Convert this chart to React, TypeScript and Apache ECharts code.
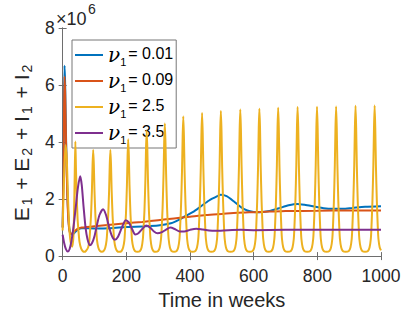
import React, { useEffect, useRef } from 'react';
import * as echarts from 'echarts';

const xTicks = { min: 0, max: 1000, interval: 200 };
const yTicks = { min: 0, max: 8, interval: 2 };
const seriesNames = ['ν1 = 0.01', 'ν1 = 0.09', 'ν1 = 2.5', 'ν1 = 3.5'];
const nuValues = ['0.01', '0.09', '2.5', '3.5'];
const colors = ['#0072BD', '#D95319', '#EDB120', '#7E2F8E'];

// values in units of 10^6
const blue: [number, number][] = [
  [0, 1.0], [2, 2.5], [4, 5.0], [6, 6.68], [8, 6.0], [11, 4.0], [15, 2.2], [19, 1.2], [24, 0.8],
  [30, 0.75], [40, 0.85], [50, 0.95], [60, 0.98], [100, 0.97], [150, 0.98], [200, 1.02], [250, 1.04],
  [300, 1.07], [340, 1.15], [365, 1.27], [385, 1.4], [410, 1.55], [435, 1.75], [460, 1.95], [486, 2.1],
  [497, 2.15], [515, 2.1], [540, 1.9], [560, 1.72], [580, 1.6], [600, 1.55], [620, 1.54], [650, 1.58],
  [680, 1.68], [710, 1.78], [737, 1.83], [760, 1.8], [790, 1.74], [820, 1.68], [850, 1.66], [880, 1.66],
  [910, 1.69], [950, 1.73], [1000, 1.75],
];

const orange: [number, number][] = [
  [0, 1.0], [2, 2.4], [4, 4.6], [6, 6.3], [8, 5.7], [11, 3.8], [15, 2.0], [19, 1.1], [24, 0.77],
  [30, 0.8], [40, 0.9], [50, 0.97], [60, 1.0], [100, 1.05], [150, 1.1], [200, 1.15], [250, 1.2],
  [300, 1.26], [350, 1.32], [400, 1.38], [450, 1.44], [500, 1.48], [550, 1.52], [600, 1.54],
  [650, 1.56], [700, 1.58], [800, 1.59], [900, 1.6], [1000, 1.6],
];

const yellow: [number, number][] = [
  [0, 0.9], [4, 2.6], [9, 3.9], [13, 3.4], [17, 2.0], [21, 1.0], [25, 0.5], [30, 0.33], [34, 0.7], [36, 1.6], [38, 2.9],
  [40, 4.02], [42, 3.0], [44, 2.2], [47, 1.3], [50, 0.85], [53, 0.5], [58, 0.27], [63, 0.18], [68, 0.15],
  [73, 0.18], [80, 0.3], [84, 0.55], [86, 0.85], [89, 1.4], [92, 2.3], [94, 3.2], [96, 3.72], [98, 3.2], [100, 2.3], [103, 1.4], [106, 0.85], [108, 0.55], [112, 0.3], [117, 0.18], [123, 0.15],
  [129, 0.18], [134, 0.3], [138, 0.55], [140, 0.85], [143, 1.4], [146, 2.3], [148, 3.2], [150, 3.72], [152, 3.2], [154, 2.3], [157, 1.4], [160, 0.85], [162, 0.55], [166, 0.3], [171, 0.18], [178, 0.15],
  [185, 0.18], [190, 0.3], [194, 0.55], [196, 0.9], [199, 1.5], [202, 2.5], [204, 3.5], [206, 4.1], [208, 3.5], [210, 2.5], [213, 1.5], [216, 0.9], [218, 0.55], [222, 0.3], [227, 0.18], [235, 0.15],
  [243, 0.18], [248, 0.3], [252, 0.6], [254, 0.95], [257, 1.6], [260, 2.7], [262, 3.8], [264, 4.4], [266, 3.8], [268, 2.7], [271, 1.6], [274, 0.95], [276, 0.6], [280, 0.3], [285, 0.18], [292, 0.15],
  [300, 0.18], [305, 0.3], [309, 0.6], [311, 0.95], [314, 1.7], [317, 2.9], [319, 4.0], [321, 4.65], [323, 4.0], [325, 2.9], [328, 1.7], [331, 0.95], [333, 0.6], [337, 0.3], [342, 0.18], [350, 0.15],
  [358, 0.18], [363, 0.3], [367, 0.6], [369, 1.0], [372, 1.8], [375, 3.0], [377, 4.2], [379, 4.9], [381, 4.2], [383, 3.0], [386, 1.8], [389, 1.0], [391, 0.6], [395, 0.3], [400, 0.18], [408, 0.15],
  [417, 0.18], [422, 0.3], [426, 0.6], [428, 1.0], [431, 1.85], [434, 3.1], [436, 4.3], [438, 5.02], [440, 4.3], [442, 3.1], [445, 1.85], [448, 1.0], [450, 0.6], [454, 0.3], [459, 0.18], [467, 0.15],
  [476, 0.18], [481, 0.3], [485, 0.6], [487, 1.0], [490, 1.9], [493, 3.15], [495, 4.4], [497, 5.09], [499, 4.4], [501, 3.15], [504, 1.9], [507, 1.0], [509, 0.6], [513, 0.3], [518, 0.18], [527, 0.15],
  [537, 0.18], [542, 0.3], [546, 0.6], [548, 1.0], [551, 1.9], [554, 3.2], [556, 4.45], [558, 5.14], [560, 4.45], [562, 3.2], [565, 1.9], [568, 1.0], [570, 0.6], [574, 0.3], [579, 0.18], [588, 0.15],
  [597, 0.18], [602, 0.3], [606, 0.6], [608, 1.0], [611, 1.9], [614, 3.2], [616, 4.5], [618, 5.17], [620, 4.5], [622, 3.2], [625, 1.9], [628, 1.0], [630, 0.6], [634, 0.3], [639, 0.18], [647, 0.15],
  [656, 0.18], [661, 0.3], [665, 0.6], [667, 1.0], [670, 1.9], [673, 3.2], [675, 4.5], [677, 5.2], [679, 4.5], [681, 3.2], [684, 1.9], [687, 1.0], [689, 0.6], [693, 0.3], [698, 0.18], [707, 0.15],
  [717, 0.18], [722, 0.3], [726, 0.6], [728, 1.0], [731, 1.9], [734, 3.2], [736, 4.5], [738, 5.23], [740, 4.5], [742, 3.2], [745, 1.9], [748, 1.0], [750, 0.6], [754, 0.3], [759, 0.18], [768, 0.15],
  [778, 0.18], [783, 0.3], [787, 0.6], [789, 1.0], [792, 1.9], [795, 3.2], [797, 4.5], [799, 5.24], [801, 4.5], [803, 3.2], [806, 1.9], [809, 1.0], [811, 0.6], [815, 0.3], [820, 0.18], [829, 0.15],
  [838, 0.18], [843, 0.3], [847, 0.6], [849, 1.0], [852, 1.9], [855, 3.2], [857, 4.5], [859, 5.25], [861, 4.5], [863, 3.2], [866, 1.9], [869, 1.0], [871, 0.6], [875, 0.3], [880, 0.18], [889, 0.15],
  [899, 0.18], [904, 0.3], [908, 0.6], [910, 1.0], [913, 1.9], [916, 3.2], [918, 4.5], [920, 5.27], [922, 4.5], [924, 3.2], [927, 1.9], [930, 1.0], [932, 0.6], [936, 0.3], [941, 0.18], [950, 0.15],
  [959, 0.18], [964, 0.3], [968, 0.6], [970, 1.0], [973, 1.9], [976, 3.2], [978, 4.5], [980, 5.28], [982, 4.5], [984, 3.2], [987, 1.9], [990, 1.0], [992, 0.6], [996, 0.3], [1000, 0.2],
];

const purple: [number, number][] = [
  [0, 0.75], [5, 0.45], [10, 0.25], [16, 0.16], [22, 0.25], [28, 0.55], [35, 1.1], [42, 1.8], [48, 2.4],
  [55, 2.8], [60, 2.5], [66, 1.7], [72, 1.0], [78, 0.6], [85, 0.38], [92, 0.45], [100, 0.7], [108, 1.1],
  [116, 1.45], [127, 1.64], [136, 1.45], [145, 1.05], [155, 0.7], [164, 0.57], [174, 0.68], [186, 1.0],
  [198, 1.26], [208, 1.18], [218, 0.95], [228, 0.76], [238, 0.8], [250, 0.95], [262, 1.07], [275, 1.0],
  [287, 0.86], [298, 0.8], [310, 0.83], [325, 0.93], [338, 1.0], [352, 0.95], [368, 0.86], [382, 0.86],
  [400, 0.92], [420, 0.96], [440, 0.93], [460, 0.9], [480, 0.89], [520, 0.91], [560, 0.92], [600, 0.91],
  [700, 0.92], [800, 0.92], [1000, 0.92],
];

const seriesData = [blue, orange, yellow, purple];

const FONT = 'Liberation Sans, Arial, Helvetica, sans-serif';
const axisColor = '#6e6e6e';
const textColor = '#262626';

export default function App() {
  const ref = useRef<HTMLDivElement>(null);
  useEffect(() => {
    if (!ref.current) return;
    const chart = echarts.init(ref.current, undefined, { renderer: 'svg' });
    const axisCommon = {
      type: 'value' as const,
      axisLine: { show: true, lineStyle: { color: axisColor, width: 1 } },
      axisTick: { show: true, inside: true, length: 4, lineStyle: { color: axisColor, width: 1 } },
      splitLine: { show: false },
    };
    chart.setOption({
      animation: false,
      backgroundColor: '#ffffff',
      grid: { left: 55, right: 39, top: 28, bottom: 56, containLabel: false },
      xAxis: [
        {
          ...axisCommon,
          ...xTicks,
          position: 'bottom',
          axisLabel: {
            show: true, fontSize: 17.5, color: textColor, fontFamily: FONT, margin: 11,
            formatter: (v: number) => String(v),
          },
          name: 'Time in weeks',
          nameLocation: 'middle',
          nameGap: 33,
          nameTextStyle: { fontSize: 20, color: textColor, fontFamily: FONT },
        },
        { ...axisCommon, ...xTicks, position: 'top', axisLabel: { show: false } },
      ],
      yAxis: [
        {
          ...axisCommon,
          ...yTicks,
          position: 'left',
          axisLabel: { show: true, fontSize: 17.5, color: textColor, fontFamily: FONT, margin: 8 },
          name: '{m|E}{s|1}{m| + E}{s|2}{m| + I}{s|1}{m| + I}{s|2}',
          nameLocation: 'middle',
          nameRotate: 90,
          nameGap: 22,
          nameTextStyle: {
            fontSize: 21,
            color: textColor,
            fontFamily: FONT,
            rich: {
              m: { fontSize: 21, lineHeight: 21, verticalAlign: 'top', fontFamily: FONT, color: textColor },
              s: { fontSize: 14, lineHeight: 14, padding: [12, 2, 0, 2], fontFamily: FONT, color: textColor },
            },
          },
        },
        { ...axisCommon, ...yTicks, position: 'right', axisLabel: { show: false } },
      ],
      legend: {
        orient: 'vertical',
        left: 72,
        top: 40,
        padding: [3, 3, 3, 3],
        itemGap: 2,
        itemWidth: 28,
        itemHeight: 2,
        icon: 'rect',
        backgroundColor: '#ffffff',
        borderColor: '#777777',
        borderWidth: 1,
        borderRadius: 0,
        data: seriesNames,
        formatter: (name: string) => {
          const i = seriesNames.indexOf(name);
          return `{nu|ν}{sub|1}{eq|= ${nuValues[i]}}`;
        },
        textStyle: {
          color: '#000',
          fontFamily: FONT,
          fontSize: 16,
          rich: {
            nu: { fontFamily: 'DejaVu Serif', fontStyle: 'italic', fontSize: 20, lineHeight: 20, verticalAlign: 'top', color: '#000' },
            sub: { fontFamily: FONT, fontSize: 11, lineHeight: 12, padding: [13, 0, 0, 0], color: '#000' },
            eq: { fontFamily: FONT, fontSize: 16, lineHeight: 20, verticalAlign: 'top', padding: [0, 0, 0, 2], color: '#000' },
          },
        },
      },
      graphic: [
        {
          type: 'text', left: 56, top: 10,
          style: { text: '×10', font: '18px "Liberation Sans", Arial, sans-serif', fontSize: 18, fill: textColor },
        },
        {
          type: 'text', left: 88, top: 2,
          style: { text: '6', font: '14px "Liberation Sans", Arial, sans-serif', fontSize: 14, fill: textColor },
        },
      ],
      series: seriesNames.map((name, i) => ({
        name,
        type: 'line',
        xAxisIndex: 0,
        yAxisIndex: 0,
        data: seriesData[i],
        showSymbol: false,
        symbol: 'none',
        smooth: 0.25,
        lineStyle: { width: 2, color: colors[i] },
        itemStyle: { color: colors[i] },
        z: 2 + i,
      })),
    });
    return () => chart.dispose();
  }, []);
  return <div ref={ref} style={{ position: 'absolute', left: 0, top: 0, width: 420, height: 315 }} />;
}
